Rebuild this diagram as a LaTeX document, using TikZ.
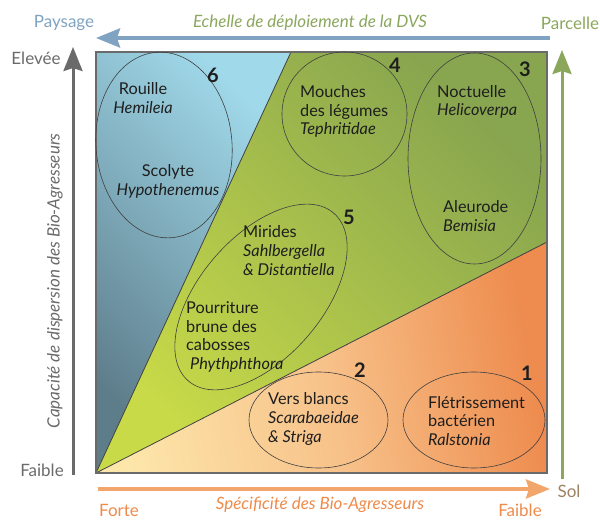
\documentclass[tikz,border=0pt]{standalone}
\usepackage{fontspec}
\setmainfont{Lato}
\usetikzlibrary{arrows.meta,shapes.geometric}
\definecolor{paysage}{HTML}{7FA3C0}
\definecolor{parcelle}{HTML}{8AA75C}
\definecolor{orangeT}{HTML}{EE8A4A}
\definecolor{orangeF}{HTML}{F2A66C}
\definecolor{gris}{HTML}{6A6A6A}
\definecolor{sol}{HTML}{9B8363}
\definecolor{txtc}{HTML}{1E1E1E}
\definecolor{bleuF}{HTML}{5E7D8B}
\definecolor{bleuC}{HTML}{A0D9EA}
\definecolor{vertC}{HTML}{C8DA48}
\definecolor{vertF}{HTML}{88A54F}
\definecolor{pale}{HTML}{FDE6AA}
\definecolor{orangeM}{HTML}{F7C28A}
\definecolor{orangeR}{HTML}{EE8B4E}
\begin{document}
\begin{tikzpicture}[x=1pt,y=1pt]

    \tikzset{
      lbl/.style={
        anchor=center,
        inner sep=0pt,
        font=\fontsize{17}{18.5}\selectfont,
      },
      txt/.style={lbl, anchor=west, align=left, text=txtc, font=\fontsize{16.3}{18.6}\selectfont},
      num/.style={lbl, text=txtc, font=\fontsize{20}{20}\selectfont\bfseries},
      oval/.style={draw=txtc!85, line width=0.6pt, ellipse, inner sep=0pt},
      trait/.style={draw=txtc!85, line width=0.8pt},
      fleche/.style={-{Stealth[length=24pt,width=19pt,inset=3pt]}},
    }
    \useasboundingbox (0,0) rectangle (600,-521);
	\coordinate (tl) at (96,-52);
	\coordinate (tr) at (547,-52);
	\coordinate (br) at (547,-473);
	\coordinate (bl) at (96,-473);
	\coordinate (split) at (291,-52);
	\coordinate (apex) at (547,-242);
	\shade[left color=bleuF, right color=bleuC, shading angle=135] (bl) -- (tl) -- (split) -- cycle;
	\shade[left color=vertC, right color=vertF, shading angle=135] (bl) -- (split) -- (tr) -- (apex) -- cycle;
	\shade[left color=pale, right color=orangeR, middle color=orangeM, shading angle=100] (bl) -- (apex) -- (br) -- cycle;
	\draw[trait] (bl) -- (split);
	\draw[trait] (bl) -- (apex);
	\draw[gris, line width=2pt] (tl) rectangle (br);

	\node[oval, minimum width=136pt, minimum height=186pt, rotate=5] (e6) at (164,-145) {};
	\node[oval, minimum width=125pt, minimum height=124pt] (e4) at (344.5,-114) {};
	\node[oval, minimum width=133pt, minimum height=211pt] (e3) at (474.5,-158.5) {};
	\node[oval, minimum width=222pt, minimum height=122pt, rotate=49] (e5) at (261,-297) {};
	\node[oval, minimum width=139pt, minimum height=96pt] (e2) at (318.5,-420) {};
	\node[oval, minimum width=142pt, minimum height=96pt] (e1) at (474,-420) {};

	\node[num] (n6) at (213,-75) {6};
	\node[num] (n4) at (395,-65) {4};
	\node[num] (n3) at (525,-69) {3};
	\node[num] (n5) at (349,-217) {5};
	\node[num] (n2) at (360,-370) {2};
	\node[num] (n1) at (527,-373) {1};

	\node[txt, anchor=center, align=center] (rouille) at (143,-98) {Rouille\\\textit{Hemileia}};
	\node[txt, anchor=center, align=center] (scolyte) at (168,-181.5) {Scolyte\\\textit{Hypothenemus}};
	\node[txt] (mouches) at (300,-111.5) {Mouches\\des légumes\\\textit{Tephritidae}};
	\node[txt] (noctuelle) at (437,-102) {Noctuelle\\\textit{Helicoverpa}};
	\node[txt] (aleurode) at (443,-216) {Aleurode\\\textit{Bemisia}};
	\node[txt] (mirides) at (243,-250.5) {Mirides\\\textit{Sahlbergella}\\\textit{\& Distantiella}};
	\node[txt] (pourriture) at (186,-337) {Pourriture\\brune des\\cabosses\\\hspace{4pt}\textit{Phythphthora}};
	\node[txt] (vers) at (268,-419) {Vers blancs\\\textit{Scarabaeidae}\\\textit{\& Striga}};
	\node[txt] (fletri) at (428,-421) {Flétrissement\\bactérien\\\textit{Ralstonia}};

	\coordinate (haut d) at (550,-38);
	\coordinate (haut g) at (96,-38);
	\coordinate (gauche b) at (73,-475);
	\coordinate (gauche h) at (73,-47);
	\coordinate (droite b) at (562,-479);
	\coordinate (droite h) at (562,-50);
	\coordinate (bas g) at (98,-489);
	\coordinate (bas d) at (550,-489);
	\draw[fleche, paysage, line width=4pt] (haut d) -- (haut g);
	\draw[fleche, gris, line width=3pt] (gauche b) -- (gauche h);
	\draw[fleche, parcelle, line width=3pt] (droite b) -- (droite h);
	\draw[fleche, orangeF, line width=3.5pt] (bas g) -- (bas d);

	\node[lbl, text=paysage] (paysage) at (64,-23) {Paysage};
	\node[lbl, text=parcelle] (parcelle) at (570,-23) {Parcelle};
	\node[lbl, text=parcelle, font=\fontsize{17}{18.5}\selectfont\itshape] (echelle) at (310,-23) {Echelle de déploiement de la DVS};
	\node[lbl, text=gris] (elevee) at (36,-58) {Elevée};
	\node[lbl, text=gris] (faibleG) at (42,-470) {Faible};
	\node[lbl, text=gris, rotate=90, font=\fontsize{17}{18.5}\selectfont\itshape] (capacite) at (55,-281) {Capacité de dispersion des Bio-Agresseurs};
	\node[lbl, text=sol] (sol) at (569,-491) {Sol};
	\node[lbl, text=orangeT] (forte) at (119,-510) {Forte};
	\node[lbl, text=orangeT] (faibleB) at (520,-510) {Faible};
	\node[lbl, text=orangeT, font=\fontsize{17}{18.5}\selectfont\itshape] (specif) at (320,-505) {Spécificité des Bio-Agresseurs};

\end{tikzpicture}
\end{document}
